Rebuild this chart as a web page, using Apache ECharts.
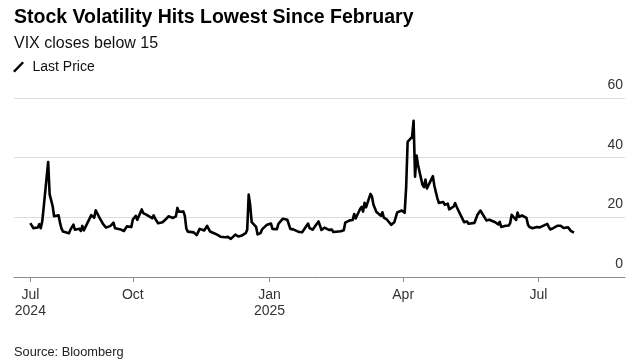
<!DOCTYPE html>
<html>
<head>
<meta charset="utf-8">
<script src="https://cdn.jsdelivr.net/npm/echarts@6/dist/echarts.min.js"></script>
<style>
html,body{margin:0;padding:0;background:#fff;}
#chart{width:640px;height:364px;}
</style>
</head>
<body>
<div id="chart"></div>
<script>
// ---- Data (VIX daily closes) ----
const dates = [
 '2024-07-24','2024-07-25','2024-07-26','2024-07-29','2024-07-30','2024-07-31',
 '2024-08-01','2024-08-02','2024-08-05','2024-08-06','2024-08-07','2024-08-08','2024-08-09','2024-08-12','2024-08-13','2024-08-14','2024-08-15','2024-08-16','2024-08-19','2024-08-20','2024-08-21','2024-08-22','2024-08-23','2024-08-26','2024-08-27','2024-08-28','2024-08-29','2024-08-30',
 '2024-09-03','2024-09-04','2024-09-05','2024-09-06','2024-09-09','2024-09-10','2024-09-11','2024-09-12','2024-09-13','2024-09-16','2024-09-17','2024-09-18','2024-09-19','2024-09-20','2024-09-23','2024-09-24','2024-09-25','2024-09-26','2024-09-27','2024-09-30',
 '2024-10-01','2024-10-02','2024-10-03','2024-10-04','2024-10-07','2024-10-08','2024-10-09','2024-10-10','2024-10-11','2024-10-14','2024-10-15','2024-10-16','2024-10-17','2024-10-18','2024-10-21','2024-10-22','2024-10-23','2024-10-24','2024-10-25','2024-10-28','2024-10-29','2024-10-30','2024-10-31',
 '2024-11-01','2024-11-04','2024-11-05','2024-11-06','2024-11-07','2024-11-08','2024-11-11','2024-11-12','2024-11-13','2024-11-14','2024-11-15','2024-11-18','2024-11-19','2024-11-20','2024-11-21','2024-11-22','2024-11-25','2024-11-26','2024-11-27','2024-11-29',
 '2024-12-02','2024-12-03','2024-12-04','2024-12-05','2024-12-06','2024-12-09','2024-12-10','2024-12-11','2024-12-12','2024-12-13','2024-12-16','2024-12-17','2024-12-18','2024-12-19','2024-12-20','2024-12-23','2024-12-24','2024-12-26','2024-12-27','2024-12-30','2024-12-31',
 '2025-01-02','2025-01-03','2025-01-06','2025-01-07','2025-01-08','2025-01-10','2025-01-13','2025-01-14','2025-01-15','2025-01-16','2025-01-17','2025-01-21','2025-01-22','2025-01-23','2025-01-24','2025-01-27','2025-01-28','2025-01-29','2025-01-30','2025-01-31',
 '2025-02-03','2025-02-04','2025-02-05','2025-02-06','2025-02-07','2025-02-10','2025-02-11','2025-02-12','2025-02-13','2025-02-14','2025-02-18','2025-02-19','2025-02-20','2025-02-21','2025-02-24','2025-02-25','2025-02-26','2025-02-27','2025-02-28',
 '2025-03-03','2025-03-04','2025-03-05','2025-03-06','2025-03-07','2025-03-10','2025-03-11','2025-03-12','2025-03-13','2025-03-14','2025-03-17','2025-03-18','2025-03-19','2025-03-20','2025-03-21','2025-03-24','2025-03-25','2025-03-26','2025-03-27','2025-03-28','2025-03-31',
 '2025-04-01','2025-04-02','2025-04-03','2025-04-04','2025-04-07','2025-04-08','2025-04-09','2025-04-10','2025-04-11','2025-04-14','2025-04-15','2025-04-16','2025-04-17','2025-04-21','2025-04-22','2025-04-23','2025-04-24','2025-04-25','2025-04-28','2025-04-29','2025-04-30',
 '2025-05-01','2025-05-02','2025-05-05','2025-05-06','2025-05-07','2025-05-08','2025-05-09','2025-05-12','2025-05-13','2025-05-14','2025-05-15','2025-05-16','2025-05-19','2025-05-20','2025-05-21','2025-05-22','2025-05-23','2025-05-27','2025-05-28','2025-05-29','2025-05-30',
 '2025-06-02','2025-06-03','2025-06-04','2025-06-05','2025-06-06','2025-06-09','2025-06-10','2025-06-11','2025-06-12','2025-06-13','2025-06-16','2025-06-17','2025-06-18','2025-06-20','2025-06-23','2025-06-24','2025-06-25','2025-06-26','2025-06-27','2025-06-30',
 '2025-07-01','2025-07-02','2025-07-03','2025-07-07','2025-07-08','2025-07-09','2025-07-10','2025-07-11','2025-07-14','2025-07-15','2025-07-16','2025-07-17','2025-07-18','2025-07-21','2025-07-22','2025-07-23','2025-07-24','2025-07-25'
];
const lastPrice = [
 18.04,18.46,16.39,16.60,17.69,16.36,
 18.59,23.39,38.57,27.71,27.85,23.79,20.37,20.71,18.12,16.19,15.23,14.80,14.65,15.88,16.27,17.55,15.86,16.15,15.43,17.11,15.65,15.00,
 20.72,21.32,19.90,22.38,19.45,19.08,17.69,17.07,16.56,17.14,17.61,18.23,16.33,16.15,15.89,15.39,15.41,15.37,16.96,16.73,
 19.26,18.90,20.49,19.21,22.64,21.42,20.86,20.93,20.46,19.70,20.64,19.58,19.11,18.03,18.37,18.20,19.24,19.08,20.33,19.80,19.34,20.35,23.16,
 21.88,21.98,20.49,16.27,15.20,14.94,14.97,14.71,14.02,14.31,16.14,15.58,16.35,17.16,16.87,15.24,14.60,14.10,14.10,13.51,
 13.34,13.30,13.45,13.54,12.77,14.19,14.18,13.58,13.92,13.81,14.69,15.87,27.62,24.09,18.36,16.78,14.27,14.73,15.95,17.40,17.35,
 17.93,16.13,16.04,17.82,17.70,19.54,19.19,18.71,16.12,16.60,15.97,15.06,15.10,15.02,14.85,17.90,16.41,16.56,15.84,16.43,
 18.62,17.21,15.77,15.50,16.54,15.81,16.02,15.89,15.10,14.77,15.35,15.27,15.66,18.21,18.98,19.43,19.10,21.13,19.63,
 22.78,23.51,21.93,24.87,23.37,27.86,26.92,24.23,24.66,21.77,20.51,21.70,19.90,19.80,19.28,17.48,17.15,18.33,18.69,21.65,22.28,
 21.77,21.51,30.02,45.31,46.98,52.33,33.62,40.72,37.56,30.89,30.12,32.64,29.65,33.82,30.57,28.45,26.47,24.84,25.15,24.17,24.70,
 24.60,22.68,23.64,24.76,23.55,22.48,21.90,18.39,17.72,18.62,17.83,17.24,18.14,18.09,20.87,20.28,22.29,18.96,19.31,19.18,18.57,
 18.36,17.69,17.61,18.48,16.77,17.16,16.95,17.26,18.02,20.82,19.11,21.60,20.14,20.62,19.83,17.48,16.76,16.59,16.32,16.73,
 16.83,16.64,16.38,17.79,16.81,15.94,15.78,16.40,17.20,17.38,17.16,16.52,16.41,16.65,16.50,15.37,15.39,14.93
];
const xTickDates = ['2024-07-24','2024-10-01','2025-01-01','2025-04-01','2025-07-01'];
const xTickLabels = ['Jul\n2024','Oct','Jan\n2025','Apr','Jul'];
const yTicks = [0, 20, 40, 60];

// ---- Build ----
const ts = s => { const p = s.split('-').map(Number); return Date.UTC(p[0], p[1]-1, p[2]); };
const seriesData = dates.map((d, i) => [ts(d), lastPrice[i]]);
const tickTs = xTickDates.map(ts);
const labelMap = {};
tickTs.forEach((t, i) => { labelMap[t] = xTickLabels[i]; });

const FONT = 'Liberation Sans, Arial, Helvetica, sans-serif';
const chart = echarts.init(document.getElementById('chart'), null, {renderer: 'canvas'});
chart.setOption({
  animation: false,
  backgroundColor: '#ffffff',
  title: [
    { text: 'Stock Volatility Hits Lowest Since February', left: 9, top: 3,
      textStyle: { fontFamily: FONT, fontSize: 19.5, fontWeight: 'bold', color: '#000' } },
    { text: 'VIX closes below 15', left: 9, top: 31,
      textStyle: { fontFamily: FONT, fontSize: 16, fontWeight: 'normal', color: '#111' } },
    { text: 'Source: Bloomberg', left: 9, top: 341,
      textStyle: { fontFamily: FONT, fontSize: 12.8, fontWeight: 'normal', color: '#222' } }
  ],
  legend: {
    left: 13, top: 60, padding: 0,
    itemWidth: 12, itemHeight: 11, itemGap: 10,
    data: [{ name: 'Last Price',
      icon: 'path://M8.4,0 L10,1.4 L1.6,10 L0,8.6 Z' }],
    textStyle: { fontFamily: FONT, fontSize: 14, color: '#111', padding: [0, 0, 0, 3] },
    selectedMode: false
  },
  grid: { left: 14, right: 15, top: 98, bottom: 87 },
  xAxis: {
    type: 'value',
    min: Date.UTC(2024, 6, 13),
    max: Date.UTC(2025, 7, 28, 8),
    splitLine: { show: false },
    axisLine: { show: true, lineStyle: { color: '#8c8c8c', width: 1 } },
    axisTick: { show: true, length: 5, lineStyle: { color: '#8c8c8c' }, customValues: tickTs },
    axisLabel: {
      customValues: tickTs,
      formatter: v => labelMap[v] || '',
      fontFamily: FONT, fontSize: 14, color: '#333', lineHeight: 16, margin: 10
    }
  },
  yAxis: {
    type: 'value', position: 'right',
    min: 0, max: 60, interval: 20,
    axisLine: { show: false },
    axisTick: { show: false },
    splitLine: { show: true, lineStyle: { color: '#dcdcdc', width: 1 } },
    axisLabel: {
      inside: true, margin: 2, align: 'right', verticalAlign: 'bottom',
      padding: [0, 0, 6, 0], lineHeight: 14,
      customValues: yTicks,
      fontFamily: FONT, fontSize: 14, color: '#333'
    }
  },
  series: [{
    name: 'Last Price', type: 'line',
    data: seriesData,
    showSymbol: false,
    lineStyle: { color: '#000', width: 2.6, join: 'round' },
    itemStyle: { color: '#000' },
    z: 3
  }]
});
</script>
</body>
</html>
